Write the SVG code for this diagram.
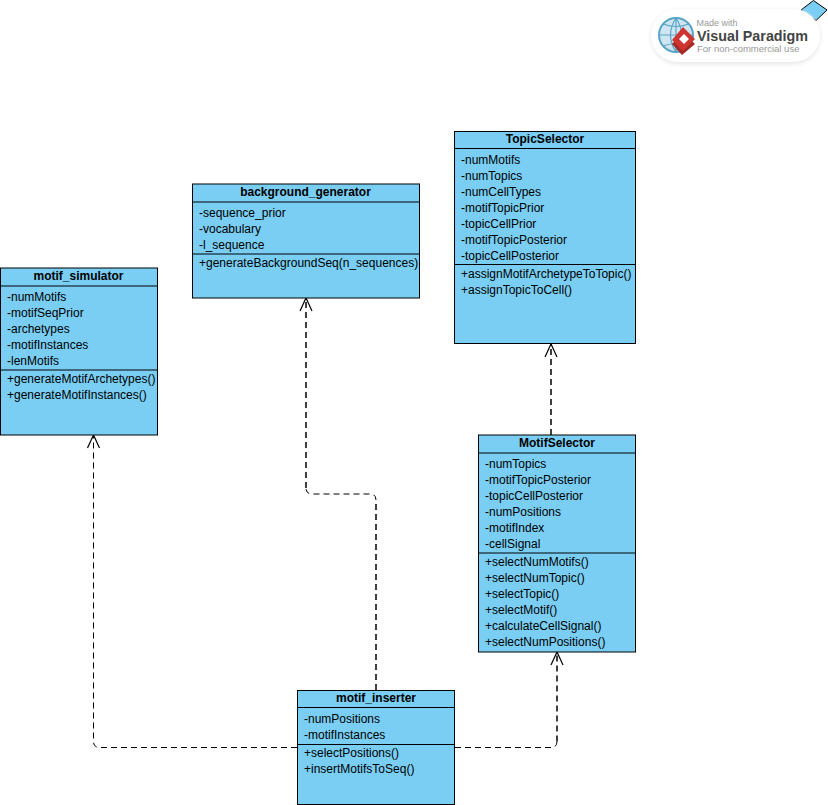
<svg xmlns="http://www.w3.org/2000/svg" width="828" height="805" viewBox="0 0 828 805">
<style>
.box{fill:#7acef4;stroke:#000;stroke-width:1}
.div{stroke:#000;stroke-width:1;fill:none}
text{font-family:"Liberation Sans",Arial,sans-serif;font-size:12px;fill:#000}
.t{font-weight:bold;text-anchor:middle}
.c{fill:none;stroke:#000;stroke-width:1;stroke-dasharray:6 4}
.b{stroke-width:1.500}
.h{fill:none;stroke:#000;stroke-width:1.200}
</style>
<defs>
<filter id="sh" x="-10%" y="-20%" width="120%" height="140%"><feGaussianBlur stdDeviation="2"/></filter>
</defs>
<g id="watermark">
<path d="M801 10L813.500 0.500L827 10L816 20.500Z" fill="#7acef4" stroke="#000"/>
<rect x="651" y="10" width="169" height="54" rx="27" fill="#e6e6e6" filter="url(#sh)"/>
<rect x="651" y="9" width="169" height="53" rx="26.500" fill="#fff"/>
<circle cx="676" cy="35" r="17" fill="#cfe6f2" stroke="#5aa5c6" stroke-width="2"/>
<path d="M659 35H693M676 18V52M663 24Q676 29 689 24M663 46Q676 41 689 46M676 18Q665 35 676 52M676 18Q687 35 676 52" fill="none" stroke="#5aa5c6" stroke-width="1.200"/>
<path d="M672 44L683 33L695 44L682 55Z" fill="#a52a26"/>
<path d="M672 40L683 27L695 39L683 51Z" fill="#cf3530"/>
<path d="M679 39L684 34L689 39L684 44Z" fill="#fff"/>
<text x="696.500" y="26" style="font-size:9px;fill:#999">Made with</text>
<text x="697" y="41" style="font-size:14px;font-weight:bold;fill:#444" textLength="111" lengthAdjust="spacingAndGlyphs">Visual Paradigm</text>
<text x="697" y="52" style="font-size:9.500px;fill:#999">For non-commercial use</text>
</g>
<g id="connectors">
<path class="c b" d="M551 435V344"/>
<path class="h" d="M545 357L551 344L557 357"/>
<path class="c b" d="M376 690V500"/>
<path class="c" d="M376 500Q376 494 370 494H312Q306 494 306 488"/>
<path class="c b" d="M306 488V298"/>
<path class="h" d="M300 311L306 298L312 311"/>
<path class="c" d="M297 747.500H99.500Q93.500 747.500 93.500 741.500V435"/>
<path class="h" d="M87.500 448L93.500 435L99.500 448"/>
<path class="c" d="M455 747.500H551Q557 747.500 557 741.500"/>
<path class="c b" d="M557 741.500V652"/>
<path class="h" d="M551 665L557 652L563 665"/>
</g>
<g id="motif_simulator">
<rect class="box" x="0.500" y="268" width="157" height="167"/>
<path class="div" d="M0 286H158M0 370H158"/>
<text class="t" x="78.500" y="280">motif_simulator</text>
<text x="7" y="301">-numMotifs</text>
<text x="7" y="317">-motifSeqPrior</text>
<text x="7" y="333">-archetypes</text>
<text x="7" y="349">-motifInstances</text>
<text x="7" y="365">-lenMotifs</text>
<text x="7" y="383">+generateMotifArchetypes()</text>
<text x="7" y="399">+generateMotifInstances()</text>
</g>
<g id="background_generator">
<rect class="box" x="192.500" y="184" width="227" height="114"/>
<path class="div" d="M192 202H420M192 254H420"/>
<text class="t" x="305.500" y="196">background_generator</text>
<text x="199" y="217">-sequence_prior</text>
<text x="199" y="233">-vocabulary</text>
<text x="199" y="249">-l_sequence</text>
<text x="199" y="267">+generateBackgroundSeq(n_sequences)</text>
</g>
<g id="TopicSelector">
<rect class="box" x="454.500" y="131.500" width="181" height="212"/>
<path class="div" d="M454 148.500H636M454 264.500H636"/>
<text class="t" x="545" y="143">TopicSelector</text>
<text x="461" y="164">-numMotifs</text>
<text x="461" y="180">-numTopics</text>
<text x="461" y="196">-numCellTypes</text>
<text x="461" y="212">-motifTopicPrior</text>
<text x="461" y="228">-topicCellPrior</text>
<text x="461" y="244">-motifTopicPosterior</text>
<text x="461" y="260">-topicCellPosterior</text>
<text x="461" y="278">+assignMotifArchetypeToTopic()</text>
<text x="461" y="294">+assignTopicToCell()</text>
</g>
<g id="MotifSelector">
<rect class="box" x="478.500" y="435" width="157" height="217"/>
<path class="div" d="M478 453H636M478 553H636"/>
<text class="t" x="557" y="447">MotifSelector</text>
<text x="485" y="468">-numTopics</text>
<text x="485" y="484">-motifTopicPosterior</text>
<text x="485" y="500">-topicCellPosterior</text>
<text x="485" y="516">-numPositions</text>
<text x="485" y="532">-motifIndex</text>
<text x="485" y="548">-cellSignal</text>
<text x="485" y="566">+selectNumMotifs()</text>
<text x="485" y="582">+selectNumTopic()</text>
<text x="485" y="598">+selectTopic()</text>
<text x="485" y="614">+selectMotif()</text>
<text x="485" y="630">+calculateCellSignal()</text>
<text x="485" y="646">+selectNumPositions()</text>
</g>
<g id="motif_inserter">
<rect class="box" x="297.500" y="690.500" width="157" height="114"/>
<path class="div" d="M297 707.500H455M297 744.500H455"/>
<text class="t" x="376" y="702">motif_inserter</text>
<text x="304" y="723">-numPositions</text>
<text x="304" y="739">-motifInstances</text>
<text x="304" y="757">+selectPositions()</text>
<text x="304" y="773">+insertMotifsToSeq()</text>
</g>
</svg>
